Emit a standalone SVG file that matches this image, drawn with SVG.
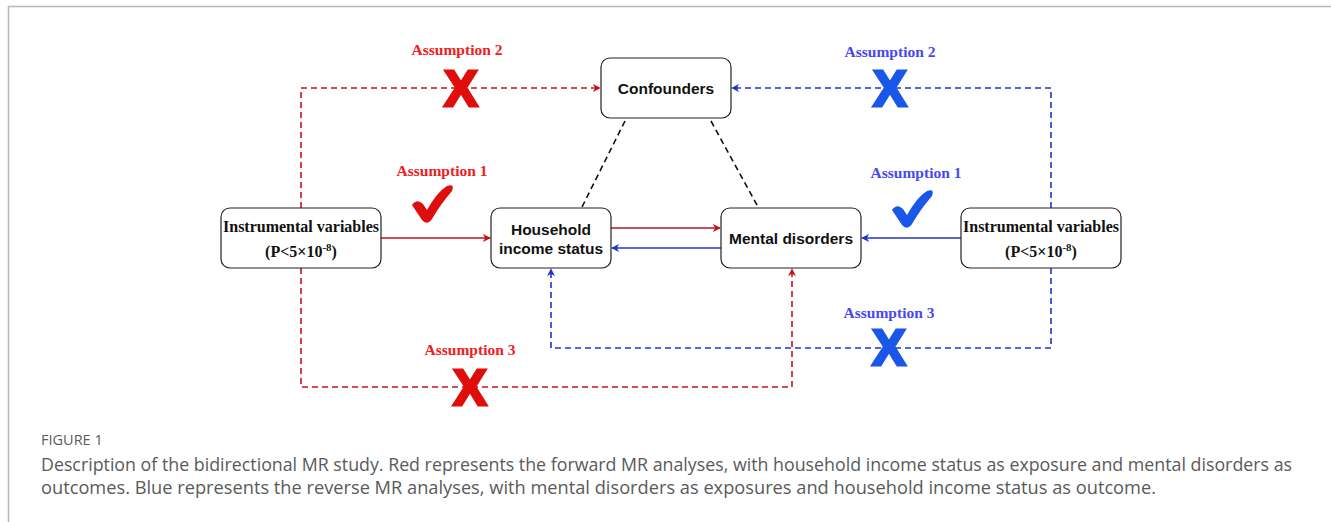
<svg xmlns="http://www.w3.org/2000/svg" width="1331" height="522" viewBox="0 0 1331 522">
<style>
.node{fill:#fff;stroke:#222;stroke-width:1.2}
.ser{font-family:"Liberation Serif","Times New Roman",serif;font-weight:bold;fill:#111}
.sans{font-family:"Liberation Sans",Arial,sans-serif;font-weight:bold;fill:#111}
.lab{font-family:"Liberation Serif","Times New Roman",serif;font-weight:bold;font-size:15.5px;text-anchor:middle}
.xr{font-family:"Liberation Sans",Arial,sans-serif;font-weight:bold;font-size:50px;text-anchor:middle;fill:#e00d0d;stroke:#e00d0d;stroke-width:3}
.xb{font-family:"Liberation Sans",Arial,sans-serif;font-weight:bold;font-size:50px;text-anchor:middle;fill:#1a56e8;stroke:#1a56e8;stroke-width:3}
.red{stroke:#c0141c;stroke-width:1.6;fill:none}
.blue{stroke:#1f35c8;stroke-width:1.6;fill:none}
.dash{stroke-dasharray:6 4}
.blk{stroke:#111;stroke-width:1.6;fill:none;stroke-dasharray:6 4}
.cap{font-family:"Open Sans","Noto Sans",sans-serif;fill:#5a5a5a}
</style>
<defs>
<marker id="ar" viewBox="0 0 10 10" refX="9" refY="5" markerWidth="8" markerHeight="8" orient="auto" markerUnits="userSpaceOnUse">
<path d="M0,0 L10,5 L0,10 L3,5 Z" fill="#c0141c"/>
</marker>
<marker id="ab" viewBox="0 0 10 10" refX="9" refY="5" markerWidth="8" markerHeight="8" orient="auto" markerUnits="userSpaceOnUse">
<path d="M0,0 L10,5 L0,10 L3,5 Z" fill="#1f35c8"/>
</marker>
</defs>
<rect x="0" y="0" width="1331" height="522" fill="#fff"/>
<path d="M8.5,522 V6.5 H1331" fill="none" stroke="#b8b8b8" stroke-width="1.5"/>

<g id="connectors">
<line class="red" x1="381" y1="238" x2="490" y2="238" marker-end="url(#ar)"/>
<line class="red" x1="611" y1="228" x2="720" y2="228" marker-end="url(#ar)"/>
<line class="blue" x1="721" y1="248" x2="612" y2="248" marker-end="url(#ab)"/>
<line class="blue" x1="961" y1="238" x2="862" y2="238" marker-end="url(#ab)"/>
<path class="red dash" d="M301,208 V88 H600" marker-end="url(#ar)"/>
<path class="blue dash" d="M1051,208 V88 H732" marker-end="url(#ab)"/>
<path class="red dash" d="M301,268 V387 H792 V269" marker-end="url(#ar)"/>
<path class="blue dash" d="M1051,268 V348 H551 V269" marker-end="url(#ab)"/>
<line class="blk" x1="625" y1="121" x2="582" y2="207"/>
<line class="blk" x1="711" y1="121" x2="758" y2="207"/>
</g>

<g id="node-confounders">
<rect class="node" x="601" y="58" width="130" height="60" rx="9"/>
<text class="sans" x="666" y="94" font-size="15.5" text-anchor="middle">Confounders</text>
</g>
<g id="node-iv-left">
<rect class="node" x="221" y="208" width="160" height="60" rx="9"/>
<text class="ser" x="301" y="232" font-size="16" text-anchor="middle">Instrumental variables</text>
<text class="ser" x="301" y="257" font-size="16" text-anchor="middle">(P&lt;5×10<tspan font-size="11" dy="-6">-8</tspan><tspan dy="6">)</tspan></text>
</g>
<g id="node-household">
<rect class="node" x="491" y="208" width="120" height="60" rx="9"/>
<text class="sans" x="551" y="235" font-size="15.5" text-anchor="middle">Household</text>
<text class="sans" x="551" y="254" font-size="15.5" text-anchor="middle">income status</text>
</g>
<g id="node-mental">
<rect class="node" x="721" y="208" width="140" height="60" rx="9"/>
<text class="sans" x="791" y="244" font-size="15.5" text-anchor="middle">Mental disorders</text>
</g>
<g id="node-iv-right">
<rect class="node" x="961" y="208" width="160" height="60" rx="9"/>
<text class="ser" x="1041" y="232" font-size="16" text-anchor="middle">Instrumental variables</text>
<text class="ser" x="1041" y="257" font-size="16" text-anchor="middle">(P&lt;5×10<tspan font-size="11" dy="-6">-8</tspan><tspan dy="6">)</tspan></text>
</g>

<g id="labels">
<text class="lab" x="457" y="55" fill="#f02020">Assumption 2</text>
<text class="xr" x="461" y="106">X</text>
<text class="lab" x="890" y="57" fill="#4848f0">Assumption 2</text>
<text class="xb" x="890" y="106">X</text>
<text class="lab" x="442" y="176" fill="#f02020">Assumption 1</text>
<path d="M412,205 Q417,198 423,204 L427,210 Q437,192 447,186 Q455,183 452,191 Q440,205 432,219 Q427,226 422,220 Z" fill="#e00d0d"/>
<text class="lab" x="916" y="178" fill="#4848f0">Assumption 1</text>
<path d="M892,210 Q897,203 903,209 L907,215 Q917,197 927,191 Q935,188 932,196 Q920,210 912,224 Q907,231 902,225 Z" fill="#1a56e8"/>
<text class="lab" x="889" y="318" fill="#4848f0">Assumption 3</text>
<text class="xb" x="889" y="365">X</text>
<text class="lab" x="470" y="355" fill="#f02020">Assumption 3</text>
<text class="xr" x="470" y="405">X</text>
</g>

<g id="caption">
<text class="cap" x="41" y="445" font-size="14.5">FIGURE 1</text>
<text class="cap" x="41" y="471" font-size="17.5" textLength="1251" lengthAdjust="spacingAndGlyphs">Description of the bidirectional MR study. Red represents the forward MR analyses, with household income status as exposure and mental disorders as</text>
<text class="cap" x="41" y="494" font-size="17.5" textLength="1115" lengthAdjust="spacingAndGlyphs">outcomes. Blue represents the reverse MR analyses, with mental disorders as exposures and household income status as outcome.</text>
</g>
</svg>
